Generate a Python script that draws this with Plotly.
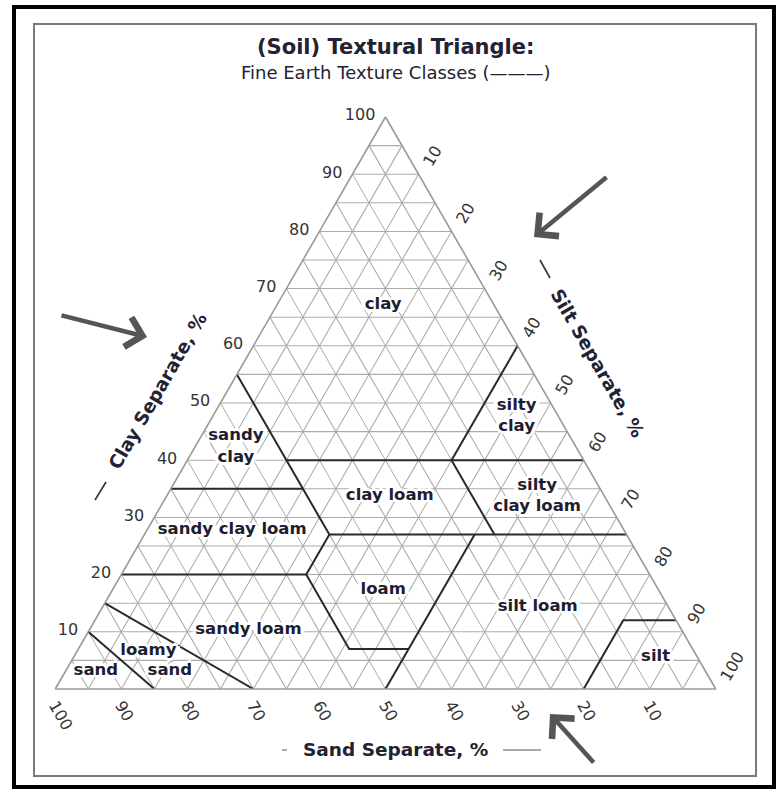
import plotly.graph_objects as go

W, H = 776, 789
FONT = "DejaVu Sans"

# ---------------- data ----------------
tick_vals = [10, 20, 30, 40, 50, 60, 70, 80, 90, 100]
minor_grid_vals = [5, 15, 25, 35, 45, 55, 65, 75, 85, 95]

# texture-class boundary polylines, points as (sand, silt, clay) %
boundary_lines = [
    [(45, 0, 55), (45, 28, 27), (52, 28, 20), (52, 41, 7), (43, 50, 7), (50, 50, 0)],
    [(45, 15, 40), (0, 60, 40)],
    [(0, 40, 60), (20, 40, 40)],
    [(65, 0, 35), (45, 20, 35)],
    [(20, 40, 40), (20, 53, 27)],
    [(45, 28, 27), (0, 73, 27)],
    [(80, 0, 20), (52, 28, 20)],
    [(23, 50, 27), (43, 50, 7)],
    [(85, 0, 15), (70, 30, 0)],
    [(90, 0, 10), (85, 15, 0)],
    [(20, 80, 0), (8, 80, 12), (0, 88, 12)],
]

# texture class labels
class_names = ["clay", "silty<br>clay", "sandy<br>clay", "clay loam", "silty<br>clay loam",
               "sandy clay loam", "loam", "silt loam", "sandy loam", "loamy", "sand",
               "sand", "silt"]
class_clay = [67.1, 47.7, 42.3, 33.7, 33.7, 27.8, 17.3, 14.3, 10.3, 6.6, 3.1, 3.1, 5.6]
class_silt = [16.1, 46.0, 6.2, 33.8, 56.1, 12.9, 41.0, 65.9, 24.1, 10.8, 15.8, 4.6, 88.1]
class_sand = [16.8, 6.3, 51.5, 32.5, 10.2, 59.3, 41.7, 19.8, 65.6, 82.6, 81.1, 92.3, 6.3]

TICK_EXT = 1.25  # tick length, in % units, along the grid direction

# ---------------- traces ----------------
fig = go.Figure()

# minor (5 %) grid lines
ga, gb, gc = [], [], []
for v in minor_grid_vals:
    r = 100 - v
    ga += [v, v, None]; gb += [r, 0, None]; gc += [0, r, None]
    ga += [r, 0, None]; gb += [v, v, None]; gc += [0, r, None]
    ga += [r, 0, None]; gb += [0, r, None]; gc += [v, v, None]
fig.add_trace(go.Scatterternary(a=ga, b=gb, c=gc, mode="lines",
                                line=dict(color="#ababab", width=1.1),
                                hoverinfo="skip", showlegend=False))

# tick marks drawn along the grid-line directions (outside the triangle)
e = TICK_EXT
ta, tb, tc = [], [], []
for v in tick_vals:
    ta += [v, v, None]; tb += [100 - v, 100 - v + e, None]; tc += [0, -e, None]      # clay
    ta += [0, -e, None]; tb += [v, v, None]; tc += [100 - v, 100 - v + e, None]      # sand
    ta += [100 - v, 100 - v + e, None]; tb += [0, -e, None]; tc += [v, v, None]      # silt
fig.add_trace(go.Scatterternary(a=ta, b=tb, c=tc, mode="lines", cliponaxis=False,
                                line=dict(color="#999", width=1.3),
                                hoverinfo="skip", showlegend=False))

# texture class boundaries
for line in boundary_lines:
    fig.add_trace(go.Scatterternary(
        b=[p[0] for p in line], c=[p[1] for p in line], a=[p[2] for p in line],
        mode="lines", line=dict(color="#2a2a2a", width=2),
        hoverinfo="skip", showlegend=False))

# class labels
shadow = ", ".join(f"white {dx}px {dy}px 0px" for dx, dy in
                   [(2, 0), (-2, 0), (0, 2), (0, -2), (2, 2), (-2, -2), (2, -2), (-2, 2),
                    (4, 0), (-4, 0), (0, 3), (0, -3)])
fig.add_trace(go.Scatterternary(
    a=class_clay, b=class_sand, c=class_silt, mode="text",
    text=["<br>".join(f"<b>{t}</b>" for t in s.split("<br>")) for s in class_names],
    textposition="middle center",
    textfont=dict(family=FONT, size=16.5, color="#1e1e30", shadow=shadow),
    hoverinfo="skip", showlegend=False))

axis_common = dict(
    tickvals=tick_vals, ticks="outside", ticklen=7, tickwidth=1, tickcolor="rgba(0,0,0,0)",
    showline=True, linecolor="#9a9a9a", linewidth=1.6,
    showgrid=True, gridcolor="#ababab", gridwidth=1.1,
    tickfont=dict(family=FONT, size=16, color="#333"),
    title=dict(text=""), min=0,
)

fig.update_layout(
    width=W, height=H,
    margin=dict(l=0, r=0, t=0, b=0),
    paper_bgcolor="white",
    showlegend=False,
    ternary=dict(
        sum=100,
        bgcolor="white",
        domain=dict(x=[55 / W, 716 / W], y=[1 - 689 / H, 1 - 117 / H]),
        aaxis=dict(axis_common, tickangle=0),
        baxis=dict(axis_common, tickangle=60, ticks=""),
        caxis=dict(axis_common, tickangle=-60),
    ),
)

def px(x):
    return x / W

def py(y):
    return 1 - y / H

# frames
fig.add_shape(type="rect", xref="paper", yref="paper", x0=px(14), x1=px(774),
              y0=py(7), y1=py(787), line=dict(color="black", width=4))
fig.add_shape(type="rect", xref="paper", yref="paper", x0=px(34), x1=px(756),
              y0=py(24), y1=py(776), line=dict(color="#7a7a7a", width=2))

# short dashes accompanying axis titles
fig.add_shape(type="line", xref="paper", yref="paper", x0=px(95), y0=py(500),
              x1=px(106), y1=py(482), line=dict(color="#333", width=1.6))
fig.add_shape(type="line", xref="paper", yref="paper", x0=px(540), y0=py(260),
              x1=px(550), y1=py(278), line=dict(color="#333", width=1.6))
fig.add_shape(type="line", xref="paper", yref="paper", x0=px(282), y0=py(750),
              x1=px(287), y1=py(750), line=dict(color="#aaa", width=2))
fig.add_shape(type="line", xref="paper", yref="paper", x0=px(503), y0=py(750),
              x1=px(541), y1=py(750), line=dict(color="#aaa", width=2))

ann = []
ann.append(dict(text="<b>(Soil) Textural Triangle:</b>", x=px(395), y=py(47),
                font=dict(family=FONT, size=21, color="#222233")))
ann.append(dict(text="Fine Earth Texture Classes (———)", x=px(395), y=py(72),
                font=dict(family=FONT, size=18, color="#222233")))
ann.append(dict(text="<b>Clay Separate, %</b>", x=px(157), y=py(391), textangle=-60,
                font=dict(family=FONT, size=18.5, color="#222233")))
ann.append(dict(text="<b>Silt Separate, %</b>", x=px(598), y=py(363), textangle=60,
                font=dict(family=FONT, size=18.5, color="#222233")))
ann.append(dict(text="<b>Sand Separate, %</b>", x=px(395), y=py(749),
                font=dict(family=FONT, size=18.5, color="#222233")))
for a in ann:
    a.update(xref="paper", yref="paper", showarrow=False, xanchor="center", yanchor="middle")

# arrows (tip, tail offset in px)
arrows = [((147, 337), (-87, -22)), ((534, 237), (74, -61)), ((550, 714), (45, 50))]
for (tx, ty), (ax, ay) in arrows:
    ann.append(dict(text="", x=px(tx), y=py(ty), xref="paper", yref="paper",
                    showarrow=True, ax=ax, ay=ay, arrowhead=4, arrowsize=1.3,
                    arrowwidth=4.5, arrowcolor="#555", standoff=0))

fig.update_layout(annotations=ann)

fig.write_html("out.html", config={"displayModeBar": False},
               post_script="document.body.style.margin='0px';document.body.style.overflow='hidden';")
